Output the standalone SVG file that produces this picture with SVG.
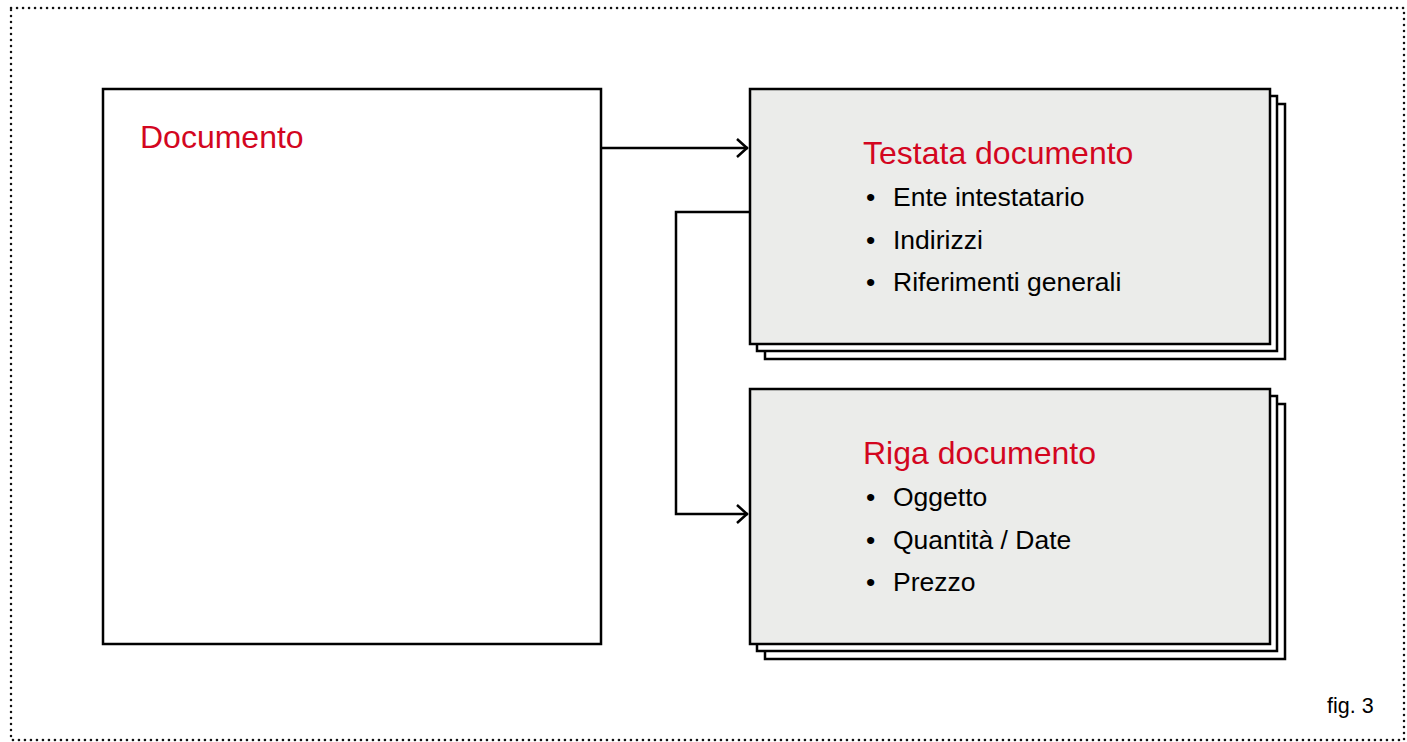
<svg xmlns="http://www.w3.org/2000/svg" width="1407" height="742" viewBox="0 0 1407 742">
  <defs>
    <style>
      .frame { fill: none; stroke: #111; stroke-width: 2.5; stroke-dasharray: 0.1 5.9; stroke-linecap: round; }
      .box { fill: #ffffff; stroke: #000; stroke-width: 2.5; }
      .card { fill: #ebecea; stroke: #000; stroke-width: 2.5; }
      .sheet { fill: #ffffff; stroke: #000; stroke-width: 2.5; }
      .title { font-family: "Liberation Sans", Arial, sans-serif; font-size: 32px; fill: #d3061f; }
      .item { font-family: "Liberation Sans", Arial, sans-serif; font-size: 26.5px; fill: #000; }
      .note { font-family: "Liberation Sans", Arial, sans-serif; font-size: 21.5px; fill: #000; }
      .link { fill: none; stroke: #000; stroke-width: 2.5; }
    </style>
    <marker id="chev" viewBox="0 0 14 22" refX="13" refY="11" markerWidth="14" markerHeight="22" markerUnits="userSpaceOnUse" orient="auto">
      <path d="M2 2 L12 11 L2 20" fill="none" stroke="#000" stroke-width="2.5"/>
    </marker>
  </defs>

  <!-- outer dotted frame -->
  <rect class="frame" x="11" y="8" width="1393" height="732"/>

  <!-- main document -->
  <g id="documento">
    <rect class="box" x="103" y="89" width="498" height="555"/>
    <text class="title" x="140" y="148">Documento</text>
  </g>

  <!-- header card (stacked) -->
  <g id="testata">
    <rect class="sheet" x="765" y="104" width="520" height="255"/>
    <rect class="sheet" x="757" y="96" width="520" height="255"/>
    <rect class="card" x="750" y="89" width="520" height="255"/>
    <text class="title" x="863" y="164">Testata documento</text>
    <text class="item" x="866" y="206">•</text>
    <text class="item" x="893" y="206">Ente intestatario</text>
    <text class="item" x="866" y="249">•</text>
    <text class="item" x="893" y="249">Indirizzi</text>
    <text class="item" x="866" y="291">•</text>
    <text class="item" x="893" y="291">Riferimenti generali</text>
  </g>

  <!-- line card (stacked) -->
  <g id="riga">
    <rect class="sheet" x="765" y="404" width="520" height="255"/>
    <rect class="sheet" x="757" y="396" width="520" height="255"/>
    <rect class="card" x="750" y="389" width="520" height="255"/>
    <text class="title" x="863" y="464">Riga documento</text>
    <text class="item" x="866" y="506">•</text>
    <text class="item" x="893" y="506">Oggetto</text>
    <text class="item" x="866" y="549">•</text>
    <text class="item" x="893" y="549">Quantità / Date</text>
    <text class="item" x="866" y="591">•</text>
    <text class="item" x="893" y="591">Prezzo</text>
  </g>

  <!-- connectors -->
  <g id="connectors">
    <path class="link" d="M601 148 H748" marker-end="url(#chev)"/>
    <path class="link" d="M750 212 H676 V514 H748" marker-end="url(#chev)"/>
  </g>

  <text class="note" x="1327" y="713">fig. 3</text>
</svg>
